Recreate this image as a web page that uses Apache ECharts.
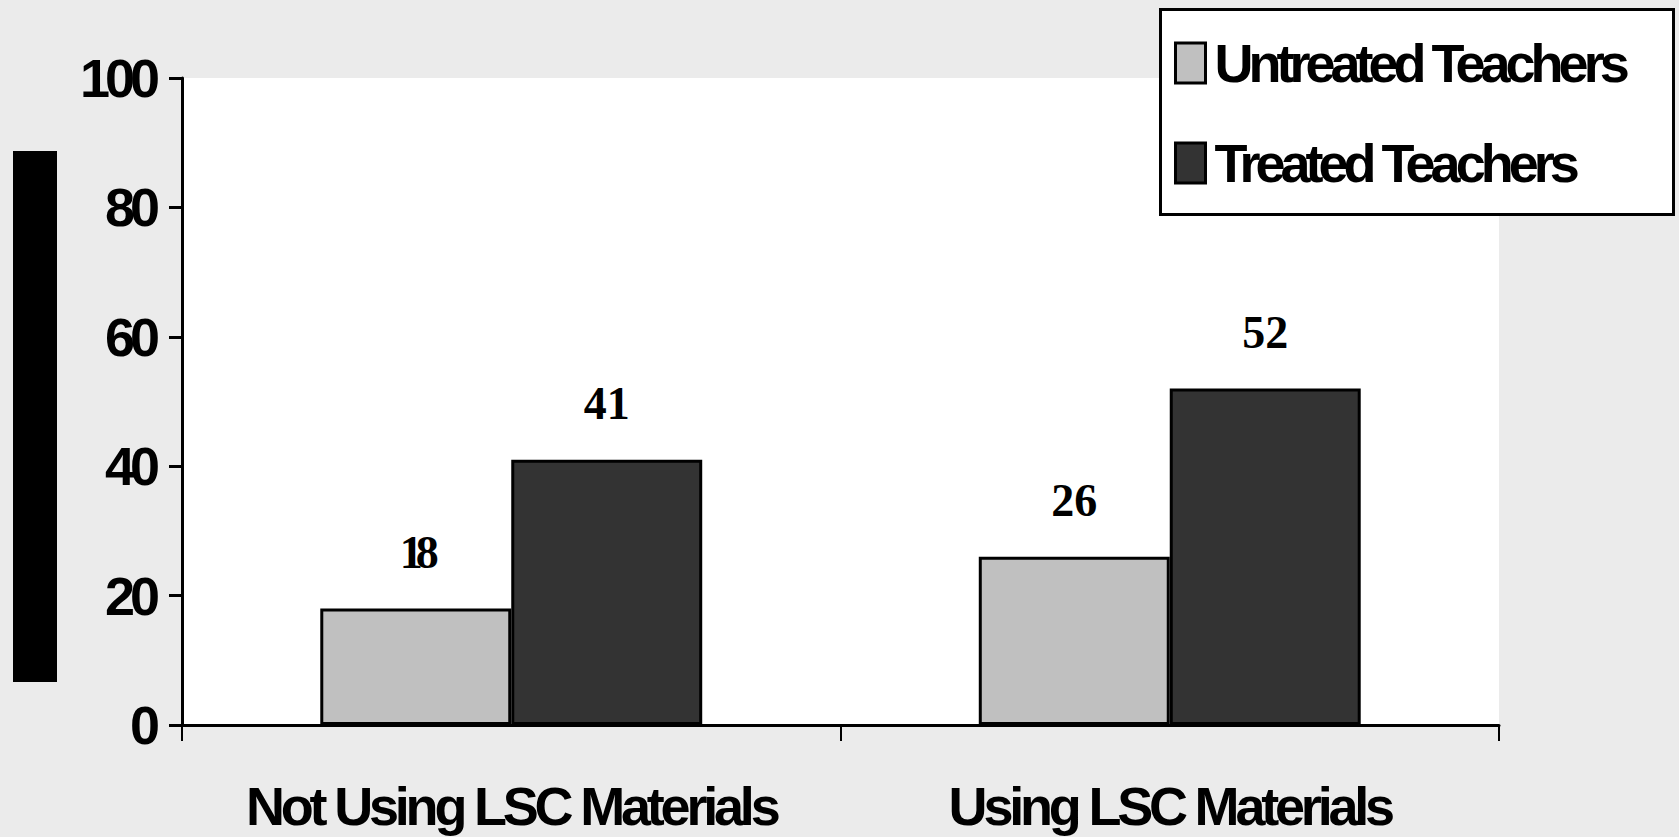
<!DOCTYPE html>
<html>
<head>
<meta charset="utf-8">
<script src="https://cdn.jsdelivr.net/npm/echarts@6/dist/echarts.min.js"></script>
<style>
  html, body { margin: 0; padding: 0; background: #ebebeb; }
  #chart { width: 1679px; height: 837px; }
  /* tight, condensed lettering */
  #chart svg text[style*="Liberation Sans"] { letter-spacing: -5px; }
  #chart svg text[style*="Arial"] { letter-spacing: -4.2px; }
  #chart svg text[style*="Times New Roman"] { letter-spacing: -7px; }
</style>
</head>
<body>
<div id="chart"></div>
<script>
const categories = ['Not Using LSC Materials', 'Using LSC Materials'];
const seriesNames = ['Untreated Teachers', 'Treated Teachers'];
const untreated = [18, 26];
const treated = [41, 52];
const yTicks = { min: 0, max: 100, interval: 20 };

const SANS = 'Liberation Sans';
const SERIF = 'Liberation Serif';

const chart = echarts.init(document.getElementById('chart'), null, { renderer: 'svg' });

const labelStyle = {
  show: true,
  position: 'top',
  distance: 33,
  fontFamily: SERIF,
  fontWeight: 'bold',
  fontSize: 46,
  lineHeight: 46,
  color: '#000'
};

// the "18" label is set tighter than the others
const untreatedData = untreated.map((v, i) =>
  i === 0 ? { value: v, label: { fontFamily: 'Times New Roman' } } : v);

chart.setOption({
  backgroundColor: '#ebebeb',
  animation: false,
  grid: {
    left: 182, right: 180, top: 78, bottom: 112,
    show: true, backgroundColor: '#ffffff', borderWidth: 0
  },
  graphic: [
    { type: 'rect', left: 13, top: 151, shape: { width: 44, height: 531 }, style: { fill: '#000' } },
    { type: 'rect', left: 1159, top: 8, z: 0, shape: { width: 513, height: 205 },
      style: { fill: '#fff', stroke: '#000', lineWidth: 3 } }
  ],
  legend: {
    orient: 'vertical',
    left: 1169,
    top: 31,
    icon: 'rect',
    itemWidth: 30,
    itemHeight: 40,
    itemGap: 46,
    z: 5,
    textStyle: { fontFamily: SANS, fontWeight: 'bold', fontSize: 54, lineHeight: 54, color: '#000', padding: [0, 0, 0, 4] },
    itemStyle: { borderColor: '#000', borderWidth: 3 },
    data: seriesNames
  },
  xAxis: {
    type: 'category',
    data: categories,
    axisLine: { lineStyle: { color: '#000', width: 3 } },
    axisTick: { show: true, alignWithLabel: false, length: 16, lineStyle: { color: '#000', width: 2 } },
    axisLabel: { margin: 54, fontFamily: 'Arial', fontWeight: 'bold', fontSize: 54, lineHeight: 54, color: '#000', interval: 0 },
    splitLine: { show: false }
  },
  yAxis: {
    type: 'value',
    min: yTicks.min, max: yTicks.max, interval: yTicks.interval,
    axisLine: { show: true, lineStyle: { color: '#000', width: 3 } },
    axisTick: { show: true, length: 13, lineStyle: { color: '#000', width: 3 } },
    axisLabel: { margin: 27, fontFamily: SANS, fontWeight: 'bold', fontSize: 54, lineHeight: 54, color: '#000' },
    splitLine: { show: false }
  },
  series: [
    {
      name: seriesNames[0], type: 'bar', data: untreatedData,
      barGap: '0%', barCategoryGap: '42%',
      itemStyle: { color: '#c0c0c0', borderColor: '#000', borderWidth: 3 },
      label: labelStyle
    },
    {
      name: seriesNames[1], type: 'bar', data: treated,
      barGap: '0%', barCategoryGap: '42%',
      itemStyle: { color: '#333333', borderColor: '#000', borderWidth: 3 },
      label: labelStyle
    }
  ]
});
</script>
</body>
</html>
